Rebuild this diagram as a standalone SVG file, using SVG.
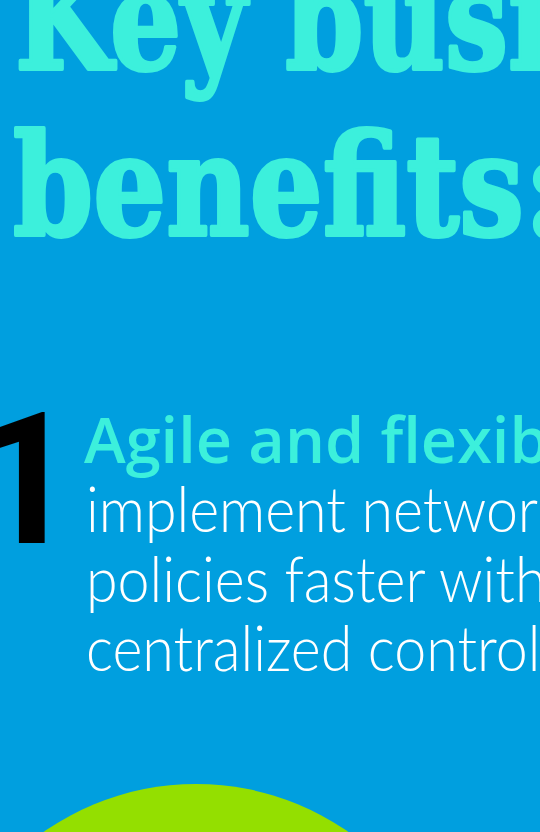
<svg xmlns="http://www.w3.org/2000/svg" width="540" height="832" viewBox="0 0 540 832">
<style>
.head{font-family:"DejaVu Serif","Liberation Serif",serif;font-weight:bold;font-size:140px;fill:#3cf0dc;stroke:#3cf0dc;stroke-width:4px;stroke-linejoin:round}
.num{font-family:Roboto,"Liberation Sans",sans-serif;font-weight:700;font-size:183px;fill:#000}
.title{font-family:"Open Sans",Lato,sans-serif;font-weight:600;font-size:63px;fill:#3cf0dc}
.body{font-family:Lato,"Open Sans",sans-serif;font-weight:300;font-size:63px;fill:#fff}
</style>
<rect width="540" height="832" fill="#009fdf"/>
<g id="heading">
<text class="head" transform="translate(15,69) scale(0.8,1)">Key busi</text>
<text class="head" transform="translate(13,235) scale(0.82,1)">benefits:</text>
</g>
<g id="item1">
<text class="num" x="-27" y="543">1</text>
<text class="title" x="84" y="463">Agile and flexib</text>
<g transform="translate(86,0) scale(0.91,1)">
<text class="body" x="0" y="532">implement networ</text>
<text class="body" x="0" y="602">policies faster with</text>
<text class="body" x="0" y="671">centralized control</text>
</g>
</g>
<g id="circle">
<circle cx="196" cy="1050" r="266" fill="#94df00"/>
</g>
</svg>
